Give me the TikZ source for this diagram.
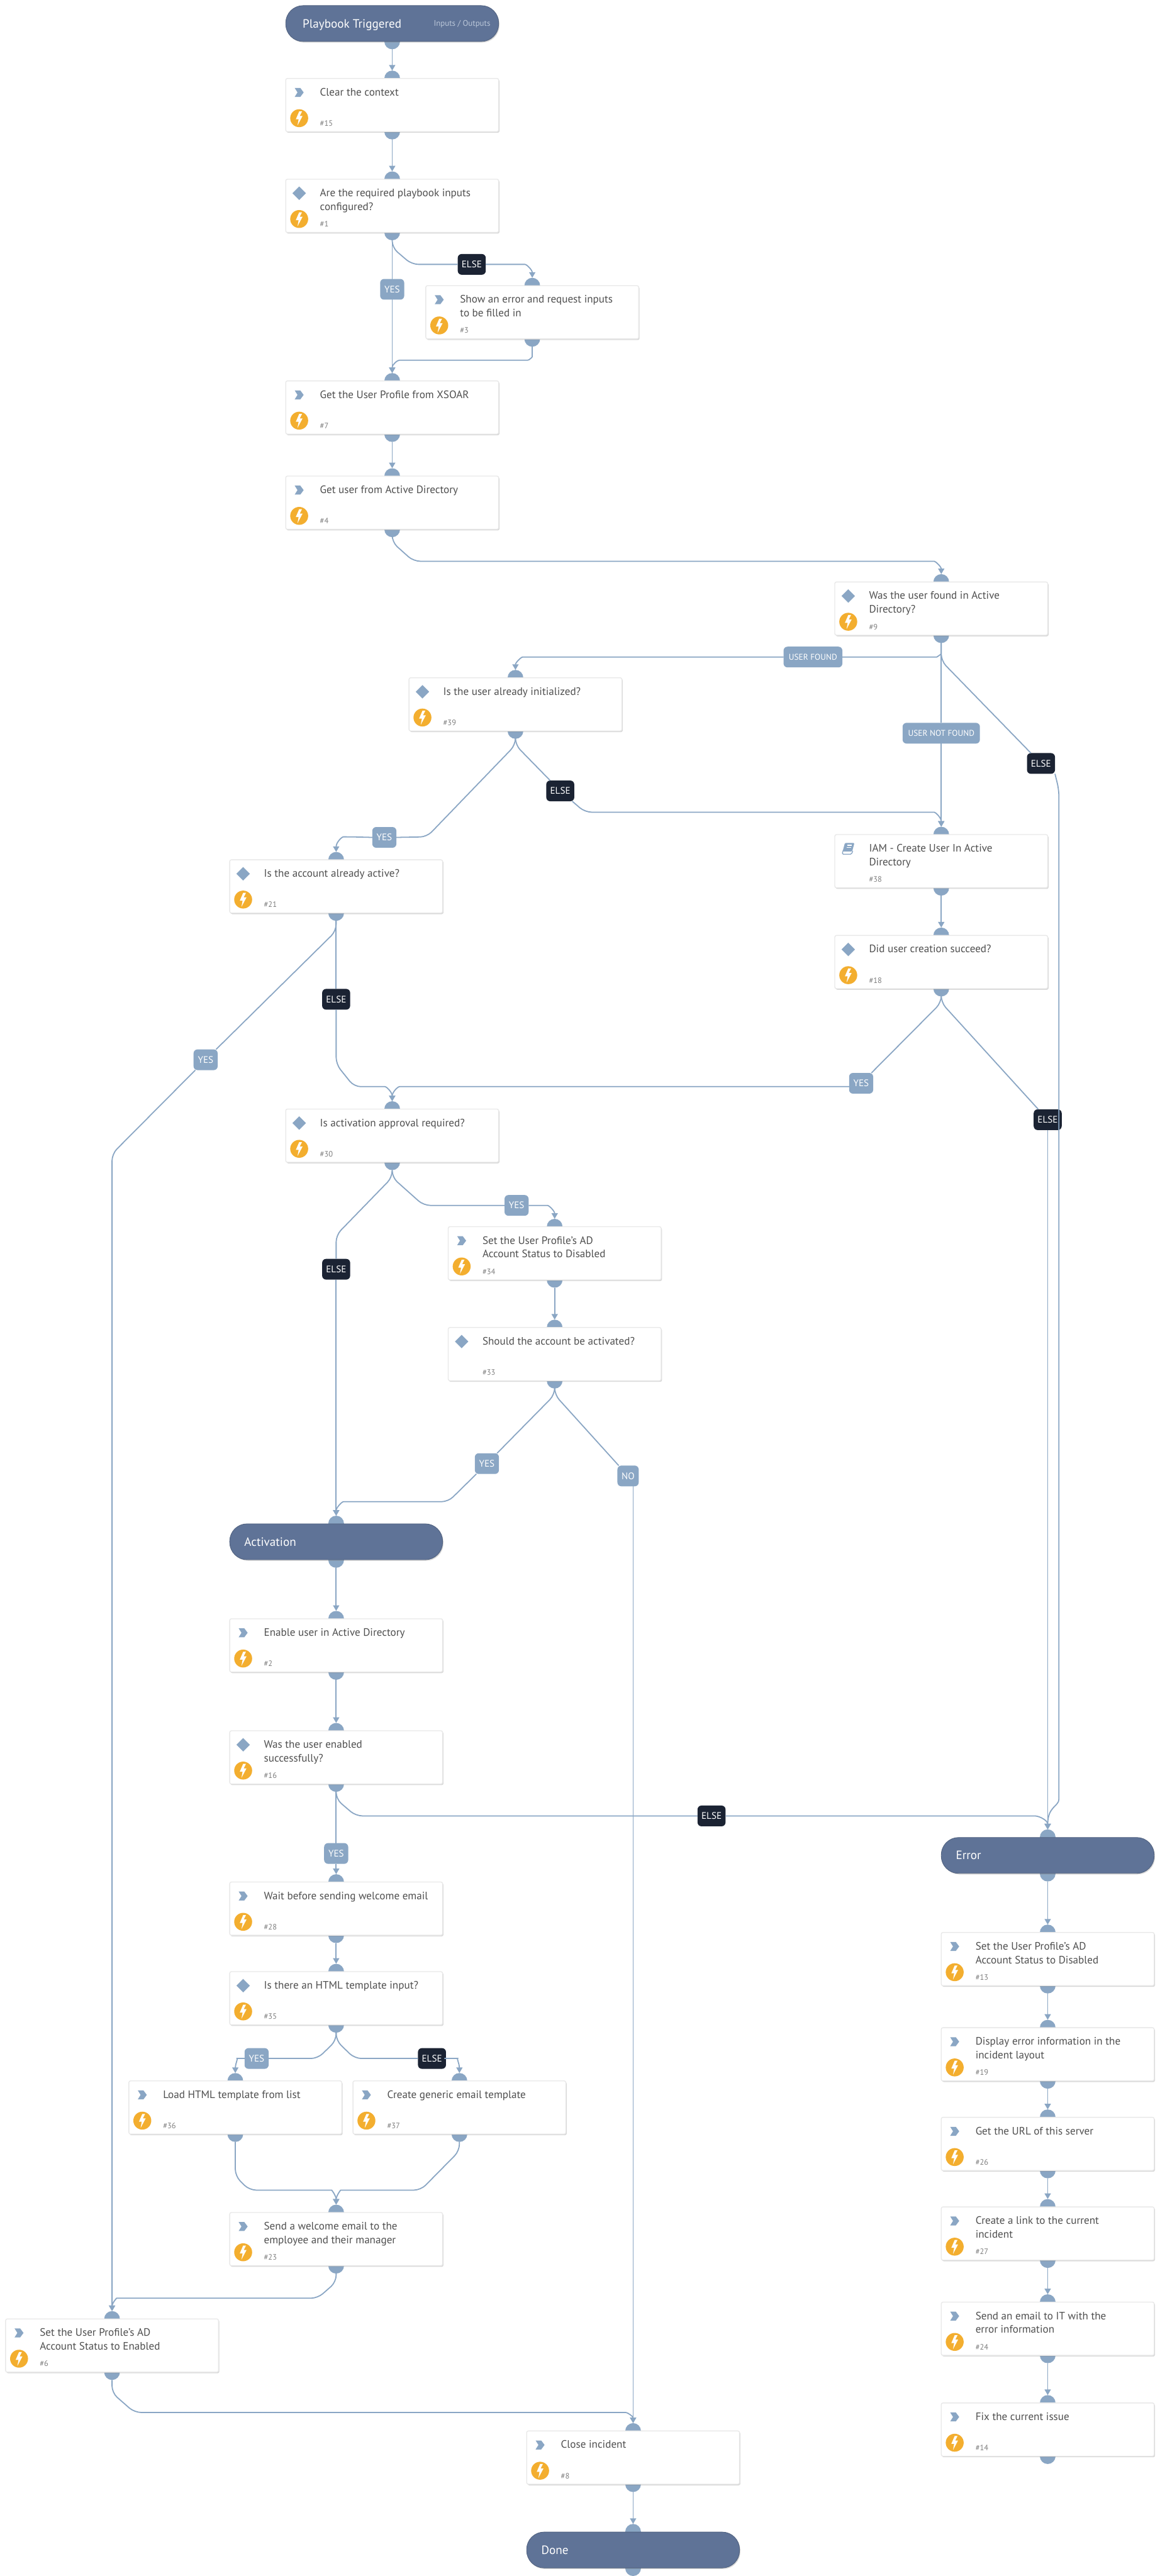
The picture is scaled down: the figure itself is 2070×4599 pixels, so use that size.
\documentclass[tikz,border=0pt]{standalone}
\usepackage{fontspec}
\setmainfont{PT Sans}
\usetikzlibrary{arrows.meta,shadows,calc}
\definecolor{flowblue}{HTML}{8AA6C4}
\definecolor{headblue}{HTML}{5F7397}
\definecolor{darklabel}{HTML}{1B2333}
\definecolor{boltorange}{HTML}{F3AE2F}
\definecolor{bodytext}{HTML}{4F4F4F}
\definecolor{idtext}{HTML}{7F7F7F}
\definecolor{boxedge}{HTML}{E8E8E8}
\definecolor{ioblue}{HTML}{BCC8DA}
\tikzset{
  bump/.style={circle,fill=flowblue,minimum size=28pt,inner sep=0pt,outer sep=0pt},
  taskbox/.style={rectangle,draw=boxedge,line width=1.5pt,fill=white,rounded corners=3pt,minimum width=380pt,minimum height=95pt,inner sep=0pt,outer sep=0pt,drop shadow={opacity=.3,shadow xshift=1.5pt,shadow yshift=-2pt}},
  headbox/.style={rectangle,draw=headblue!85!black,line width=1pt,fill=headblue,rounded corners=31pt,minimum width=380pt,minimum height=64pt,inner sep=0pt,outer sep=0pt,drop shadow={opacity=.3,shadow xshift=1.5pt,shadow yshift=-2pt}},
  tasktext/.style={anchor=base west,inner sep=0pt,text=bodytext,font=\fontsize{19.2}{24.5}\selectfont},
  idlabel/.style={anchor=base west,inner sep=0pt,text=idtext,font=\fontsize{14}{18}\selectfont},
  headtext/.style={anchor=base west,inner sep=0pt,text=white,font=\fontsize{21.5}{26}\selectfont},
  iotext/.style={anchor=base west,inner sep=0pt,text=ioblue,font=\fontsize{14.5}{18}\selectfont},
  lblblue/.style={rectangle,fill=flowblue,text=white,rounded corners=7pt,minimum height=37pt,minimum width=#1,inner sep=0pt,outer sep=0pt,font=\fontsize{17}{20}\selectfont},
  lbldark/.style={rectangle,fill=darklabel,text=white,rounded corners=7pt,minimum height=37pt,minimum width=#1,inner sep=0pt,outer sep=0pt,font=\fontsize{17}{20}\selectfont},
  lblsmall/.style={font=\fontsize{15}{20}\selectfont},
  conn/.style={draw=flowblue,line width=2pt,rounded corners=12pt},
  tip/.style={-{Triangle[width=11pt,length=10pt]}},
}
\newcommand{\iconchev}[2]{\begin{scope}[shift={(#1,#2)}]\fill[flowblue] (-8,-8)--(2,-8)--(8,0)--(2,8)--(-8,8)--(-3,0)--cycle;\end{scope}}
\newcommand{\icondia}[2]{\begin{scope}[shift={(#1,#2)}]\fill[flowblue] (-12,0)--(0,-12)--(12,0)--(0,12)--cycle;\end{scope}}
\newcommand{\iconbook}[2]{\begin{scope}[shift={(#1,#2)}]
  \fill[flowblue,rounded corners=1.5pt] (-6,-10)--(11,-10)--(7,5)--(-10,5)--cycle;
  \draw[flowblue,line width=1.5pt,rounded corners=2pt] (-9,3)--(-11,10)--(6,10)--(8,4);
  \draw[white,line width=1.3pt] (-2,-6)--(6,-6) (-3,-2)--(5,-2);
\end{scope}}
\newcommand{\iconbolt}[2]{\begin{scope}[shift={(#1,#2)}]
  \fill[boltorange] (0,0) circle (16);
  \fill[white] (0,-12)--(-6,2)--(-1,2)--(-3,13)--(6,-4)--(1,-4)--(5,-12)--cycle;
\end{scope}}
% name, centre x, top y, icon command, bolt flag, text, id
\newcommand{\tasknode}[7]{%
  \node[bump] (#1-in) at (#2,#3) {};
  \node[bump] (#1-out) at (#2,#3+95) {};
  \node[taskbox] (#1) at (#2,#3+47.5) {};
  #4{#2-166}{#3+25}
  \ifnum#5=1 \iconbolt{#2-166}{#3+71}\fi
  \node[tasktext] (#1-text) at (#2-129,#3+31) {\parbox[t]{310pt}{\raggedright #6}};
  \node[idlabel] (#1-id) at (#2-129,#3+85) {\##7};
}
% name, centre x, top y, text
\newcommand{\headnode}[4]{%
  \node[bump] (#1-in) at (#2,#3) {};
  \node[bump] (#1-out) at (#2,#3+65) {};
  \node[headbox] (#1) at (#2,#3+32.5) {};
  \node[headtext] (#1-text) at (#2-164,#3+40) {#4};
}
\begin{document}
\begin{tikzpicture}[x=1pt,y=-1pt]
\useasboundingbox (0,0) rectangle (2070,4599);
\fill[white] (0,0) rectangle (2070,4599);

% ---- header at the very top
\node[bump] (trigger-out) at (700,74) {};
\node[headbox] (trigger) at (700,42) {};
\node[headtext] (trigger-text) at (540,50) {Playbook Triggered};
\node[iotext] (trigger-io) at (774,47) {Inputs / Outputs};

\tasknode{clear}{700}{140}{\iconchev}{1}{Clear the context}{15}
\tasknode{req}{700}{320}{\icondia}{1}{Are the required playbook inputs\\configured?}{1}
\tasknode{show}{950}{510}{\iconchev}{1}{Show an error and request inputs\\to be filled in}{3}
\tasknode{profile}{700}{680}{\iconchev}{1}{Get the User Profile from XSOAR}{7}
\tasknode{aduser}{700}{850}{\iconchev}{1}{Get user from Active Directory}{4}
\tasknode{found}{1680}{1039}{\icondia}{1}{Was the user found in Active\\Directory?}{9}
\tasknode{init}{920}{1210}{\icondia}{1}{Is the user already initialized?}{39}
\tasknode{iam}{1680}{1490}{\iconbook}{0}{IAM - Create User In Active\\Directory}{38}
\tasknode{active}{600}{1535}{\icondia}{1}{Is the account already active?}{21}
\tasknode{created}{1680}{1670}{\icondia}{1}{Did user creation succeed?}{18}
\tasknode{approval}{700}{1980}{\icondia}{1}{Is activation approval required?}{30}
\tasknode{disA}{990}{2190}{\iconchev}{1}{Set the User Profile's AD\\Account Status to Disabled}{34}
\tasknode{should}{990}{2370}{\icondia}{0}{Should the account be activated?}{33}
\headnode{activation}{600}{2720}{Activation}
\tasknode{enable}{600}{2890}{\iconchev}{1}{Enable user in Active Directory}{2}
\tasknode{enabled}{600}{3090}{\icondia}{1}{Was the user enabled\\successfully?}{16}
\tasknode{wait}{600}{3360}{\iconchev}{1}{Wait before sending welcome email}{28}
\tasknode{html}{600}{3520}{\icondia}{1}{Is there an HTML template input?}{35}
\tasknode{load}{420}{3715}{\iconchev}{1}{Load HTML template from list}{36}
\tasknode{generic}{820}{3715}{\iconchev}{1}{Create generic email template}{37}
\tasknode{welcome}{600}{3950}{\iconchev}{1}{Send a welcome email to the\\employee and their manager}{23}
\tasknode{setEn}{200}{4140}{\iconchev}{1}{Set the User Profile's AD\\Account Status to Enabled}{6}
\tasknode{close}{1130}{4340}{\iconchev}{1}{Close incident}{8}
\headnode{done}{1130}{4520}{Done}
\headnode{error}{1870}{3280}{Error}
\tasknode{disB}{1870}{3450}{\iconchev}{1}{Set the User Profile's AD\\Account Status to Disabled}{13}
\tasknode{errinfo}{1870}{3620}{\iconchev}{1}{Display error information in the\\incident layout}{19}
\tasknode{url}{1870}{3780}{\iconchev}{1}{Get the URL of this server}{26}
\tasknode{link}{1870}{3940}{\iconchev}{1}{Create a link to the current\\incident}{27}
\tasknode{mail}{1870}{4110}{\iconchev}{1}{Send an email to IT with the\\error information}{24}
\tasknode{fix}{1870}{4290}{\iconchev}{1}{Fix the current issue}{14}

% ---- edge labels
\node[lblblue=43pt] (lA) at (700,516.5) {YES};
\node[lbldark=50pt] (lB) at (842,472) {ELSE};
\node[lblblue=105pt,lblsmall] (lC) at (1451,1173) {USER FOUND};
\node[lblblue=138pt,lblsmall] (lD) at (1680,1309) {USER NOT FOUND};
\node[lbldark=50pt] (lE) at (1858,1363) {ELSE};
\node[lblblue=43pt] (lF) at (686,1495) {YES};
\node[lbldark=50pt] (lG) at (1000,1412) {ELSE};
\node[lblblue=43pt] (lH) at (367,1892) {YES};
\node[lbldark=50pt] (lI) at (600,1784) {ELSE};
\node[lblblue=43pt] (lJ) at (1537,1934) {YES};
\node[lbldark=50pt] (lK) at (1870,1999) {ELSE};
\node[lbldark=50pt] (lL) at (600,2266) {ELSE};
\node[lblblue=43pt] (lM) at (922,2152) {YES};
\node[lblblue=43pt] (lN) at (869,2613) {YES};
\node[lblblue=38pt] (lO) at (1121,2635) {NO};
\node[lblblue=43pt] (lP) at (600,3309) {YES};
\node[lbldark=50pt] (lQ) at (1270,3242) {ELSE};
\node[lblblue=43pt] (lR) at (458,3675) {YES};
\node[lbldark=50pt] (lS) at (771,3675) {ELSE};

% ---- straight connectors
\draw[conn,tip] (trigger-out.south) -- (clear-in.north);
\draw[conn,tip] (clear-out.south) -- (req-in.north);
\draw[conn,tip] (profile-out.south) -- (aduser-in.north);
\draw[conn,tip] (iam-out.south) -- (created-in.north);
\draw[conn,tip] (disA-out.south) -- (should-in.north);
\draw[conn,tip] (activation-out.south) -- (enable-in.north);
\draw[conn,tip] (enable-out.south) -- (enabled-in.north);
\draw[conn,tip] (wait-out.south) -- (html-in.north);
\draw[conn,tip] (close-out.south) -- (done-in.north);
\draw[conn,tip] (error-out.south) -- (disB-in.north);
\draw[conn,tip] (disB-out.south) -- (errinfo-in.north);
\draw[conn,tip] (errinfo-out.south) -- (url-in.north);
\draw[conn,tip] (url-out.south) -- (link-in.north);
\draw[conn,tip] (link-out.south) -- (mail-in.north);
\draw[conn,tip] (mail-out.south) -- (fix-in.north);

% ---- required inputs
\draw[conn] (req-out.south) -- (lA.north);
\draw[conn,tip] (lA.south) -- (profile-in.north);
\draw[conn] (req-out.south) -- (700,442) -- (735,472) -- (lB.west);
\draw[conn,tip] (lB.east) -- (925,472) .. controls (940,472) and (950,482) .. (show-in.north);
\draw[conn,tip] (show-out.south) -- (950,625) .. controls (950,637) and (945,643) .. (930,643) -- (725,643) .. controls (710,643) and (700,650) .. (profile-in.north);
\draw[conn,tip] (aduser-out.south) -- (700,968) -- (738,1002) -- (1655,1002) .. controls (1670,1002) and (1680,1012) .. (found-in.north);

% ---- user found
\draw[conn] (found-out.south) -- (1680,1155) .. controls (1680,1168) and (1672,1173) .. (1660,1173) -- (lC.east);
\draw[conn,tip] (lC.west) -- (945,1173) .. controls (930,1173) and (920,1183) .. (init-in.north);
\draw[conn] (found-out.south) -- (lD.north);
\draw[conn,tip] (lD.south) -- (iam-in.north);
\draw[conn] (found-out.south) -- (1680,1180) -- (lE);

% ---- initialised
\draw[conn] (init-out.south) -- (920,1330) -- (762,1494) -- (lF.east);
\draw[conn,tip] (lF.west) -- (625,1494) .. controls (610,1494) and (600,1504) .. (active-in.north);
\draw[conn] (init-out.south) -- (920,1330) -- (lG);
\draw[conn,tip] (lG) -- (1044,1450) -- (1655,1450) .. controls (1670,1450) and (1680,1460) .. (iam-in.north);

% ---- active
\draw[conn] (active-out.south) -- (600,1662) -- (lH);
\draw[conn,tip] (lH) -- (200,2060) -- (setEn-in.north);
\draw[conn] (active-out.south) -- (lI.north);
\draw[conn,tip] (lI.south) -- (600,1900) -- (632,1940) -- (675,1940) .. controls (690,1940) and (700,1950) .. (approval-in.north);

% ---- creation
\draw[conn] (created-out.south) -- (1680,1790) -- (lJ);
\draw[conn,tip] ($(lJ.west)+(0,6)$) -- (725,1940) .. controls (710,1940) and (700,1950) .. (approval-in.north);
\draw[conn] (created-out.south) -- (1680,1790) -- (lK);
\draw[conn,tip] (lK.south) -- (error-in.north);

% ---- approval
\draw[conn] (approval-out.south) -- (700,2102) -- (600,2205) -- (lL.north);
\draw[conn,tip] (lL.south) -- (activation-in.north);
\draw[conn] (approval-out.south) -- (700,2102) -- (756,2152) -- (lM.west);
\draw[conn,tip] (lM.east) -- (965,2152) .. controls (980,2152) and (990,2162) .. (disA-in.north);

% ---- should activate
\draw[conn] (should-out.south) -- (990,2490) -- (lN);
\draw[conn,tip] (lN) -- (800,2681) -- (625,2681) .. controls (610,2681) and (600,2692) .. (activation-in.north);
\draw[conn] (should-out.south) -- (990,2490) -- (lO);
\draw[conn,tip] (close-in.north |- lO.south) -- (close-in.north);

% ---- enabled
\draw[conn] (enabled-out.south) -- (lP.north);
\draw[conn,tip] (lP.south) -- (wait-in.north);
\draw[conn] (enabled-out.south) -- (600,3212) -- (635,3242) -- (lQ.west);
\draw[conn,tip] (lQ.east) -- (1835,3242) .. controls (1855,3242) and (1870,3250) .. (error-in.north);

% ---- template
\draw[conn] (html-out.south) -- (600,3643) -- (567,3675) -- (lR.east);
\draw[conn,tip] (lR.west) -- (435,3675) .. controls (425,3675) and (420,3685) .. (load-in.north);
\draw[conn] (html-out.south) -- (600,3643) -- (633,3675) -- (lS.west);
\draw[conn,tip] (lS.east) -- (805,3675) .. controls (815,3675) and (820,3685) .. (generic-in.north);
\draw[conn,tip] (load-out.south) -- (420,3885) -- (445,3910) -- (580,3910) .. controls (592,3910) and (600,3920) .. (welcome-in.north);
\draw[conn,tip] (generic-out.south) -- (820,3840) -- (751,3910) -- (620,3910) .. controls (608,3910) and (600,3920) .. (welcome-in.north);
\draw[conn,tip] (welcome-out.south) -- (600,4074) -- (567,4103) -- (220,4103) .. controls (208,4103) and (200,4112) .. (setEn-in.north);
\draw[conn,tip] (setEn-out.south) -- (200,4272) -- (240,4307) -- (1105,4307) .. controls (1120,4307) and (1130,4314) .. (close-in.north);

% ---- ELSE of "found": runs over the ELSE label further down
\draw[conn,tip] (lE.south east) -- (1890,1410) -- (1890,3200) .. controls (1890,3225) and (1870,3225) .. (error-in.north);
\end{tikzpicture}
\end{document}
